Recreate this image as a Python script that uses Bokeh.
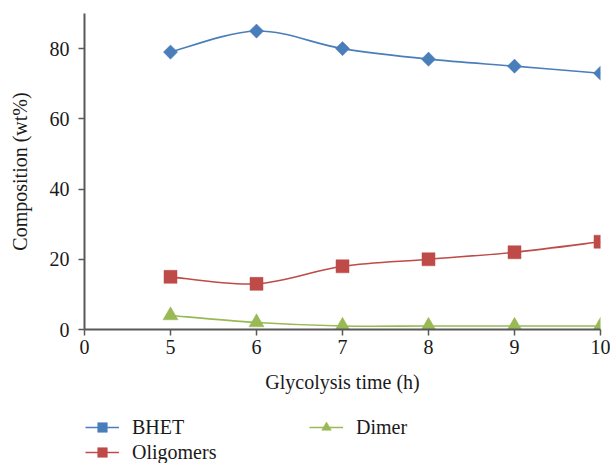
import math
from bokeh.plotting import figure
from bokeh.layouts import column
from bokeh.models import Legend, LegendItem, FixedTicker, ColumnDataSource
from bokeh.embed import file_html
from bokeh.resources import INLINE

hours = [5, 6, 7, 8, 9, 10]
bhet = [79, 85, 80, 77, 75, 73]
oligomers = [15, 13, 18, 20, 22, 25]
dimer = [4, 2, 1, 1, 1, 1]
x_tick_labels = ["0", "5", "6", "7", "8", "9", "10"]
y_ticks = [0, 20, 40, 60, 80]

FONT = "Liberation Serif"
FS = "20px"

# categories are evenly spaced on the axis: position = index of the label
x_pos = [x_tick_labels.index(str(h)) for h in hours]

p = figure(frame_width=516, frame_height=316, output_backend="svg", toolbar_location=None,
           x_range=(0, len(x_tick_labels) - 1), y_range=(0, 90),
           min_border_left=84, min_border_right=10, min_border_top=13, min_border_bottom=72)
p.grid.visible = False
p.outline_line_color = None
p.background_fill_color = "white"
p.border_fill_color = "white"


def smooth_source(xs, ys):
    n = len(xs)
    d = dict(x0=[], y0=[], x1=[], y1=[], cx0=[], cy0=[], cx1=[], cy1=[])
    for i in range(n - 1):
        a, b = max(i - 1, 0), i
        c, e = i + 1, min(i + 2, n - 1)
        d["x0"].append(xs[b]); d["y0"].append(ys[b])
        d["x1"].append(xs[c]); d["y1"].append(ys[c])
        d["cx0"].append(xs[b] + (xs[c] - xs[a]) / 6.0)
        d["cy0"].append(ys[b] + (ys[c] - ys[a]) / 6.0)
        d["cx1"].append(xs[c] - (xs[e] - xs[b]) / 6.0)
        d["cy1"].append(ys[c] - (ys[e] - ys[b]) / 6.0)
    return ColumnDataSource(d)


series = [
    ("BHET", bhet, "#4A7EBB", "square", 10, math.pi / 4),
    ("Oligomers", oligomers, "#BE4B48", "square", 13, 0),
    ("Dimer", dimer, "#98B954", "triangle", 15, 0),
]

# legend strip below the chart (its ranges keep the series out of view; only the key shows)
leg = figure(width=610, height=62, output_backend="svg", toolbar_location=None,
             x_range=(-2, -1), y_range=(-2, -1),
             min_border_left=84, min_border_right=0, min_border_top=13, min_border_bottom=0)
leg.axis.visible = False
leg.grid.visible = False
leg.outline_line_color = None

items = []
for name, ys, color, marker, size, ang in series:
    src = smooth_source(x_pos, ys)
    p.bezier(x0="x0", y0="y0", x1="x1", y1="y1", cx0="cx0", cy0="cy0",
             cx1="cx1", cy1="cy1", source=src, line_color=color, line_width=1.6)
    p.scatter(x_pos, ys, marker=marker, size=size, angle=ang, fill_color=color,
              line_color=color, line_width=0.5)
    lr = leg.line(x_pos, ys, line_color=color, line_width=1.6)
    sr = leg.scatter(x_pos, ys, marker=marker, size=size, angle=ang,
                     fill_color=color, line_color=color, line_width=0.5)
    items.append(LegendItem(label=name, renderers=[lr, sr]))

for ax in (p.xaxis[0], p.yaxis[0]):
    ax.axis_line_color = "#595959"
    ax.axis_line_width = 2
    ax.major_tick_line_color = "#595959"
    ax.major_tick_line_width = 1.5
    ax.major_tick_in = 0
    ax.major_tick_out = 6
    ax.minor_tick_line_color = None
    ax.major_label_text_font = FONT
    ax.major_label_text_font_size = FS
    ax.major_label_text_color = "#1a1a1a"
    ax.axis_label_text_font = FONT
    ax.axis_label_text_font_size = FS
    ax.axis_label_text_font_style = "normal"
    ax.axis_label_text_color = "#1a1a1a"

p.xaxis.ticker = FixedTicker(ticks=list(range(len(x_tick_labels))))
p.xaxis.major_label_overrides = {i: t for i, t in enumerate(x_tick_labels)}
p.yaxis.ticker = FixedTicker(ticks=y_ticks)
p.xaxis.axis_label = "Glycolysis time (h)"
p.yaxis.axis_label = "Composition (wt%)"
p.xaxis.major_label_standoff = 4
p.yaxis.major_label_standoff = 9
p.xaxis.axis_label_standoff = 14
p.yaxis.axis_label_standoff = 16

legend = Legend(items=items, location="top_left", orientation="vertical", nrows=2,
                background_fill_alpha=0, border_line_color=None,
                label_text_font=FONT, label_text_font_size=FS,
                label_text_color="#1a1a1a", glyph_width=34, glyph_height=24,
                label_standoff=13, spacing=1, label_width=176,
                padding=0, margin=1)
leg.add_layout(legend)

layout = column(p, leg, spacing=0)
open("out.html", "w").write(file_html(layout, INLINE))
